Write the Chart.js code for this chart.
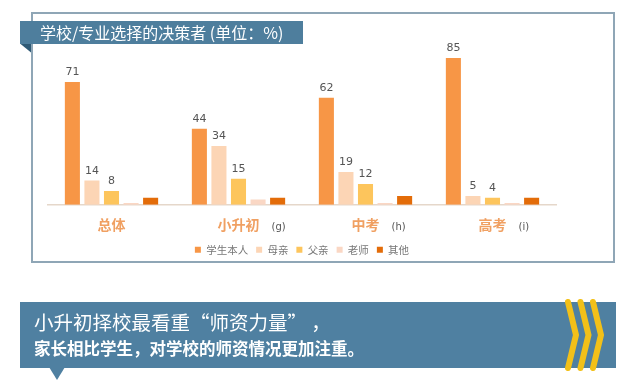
<!DOCTYPE html>
<html>
<head>
<meta charset="utf-8">
<script src="https://cdn.jsdelivr.net/npm/chart.js@4.4.1/dist/chart.umd.min.js"></script>
<style>
  html, body { margin: 0; padding: 0; background: #fff; }
  body { width: 644px; height: 387px; position: relative; overflow: hidden; font-family: "Noto Sans CJK SC", sans-serif; }
  .frame { position: absolute; left: 31px; top: 12px; width: 584px; height: 251px; box-sizing: border-box; border: 2px solid #8fa6b6; }
  #chart { position: absolute; left: 31px; top: 12px; }
  .title { position: absolute; left: 20px; top: 21px; width: 283px; height: 23px; background: #4e7e9d; color: #fff; font-size: 16px; line-height: 23px; padding-left: 20px; box-sizing: border-box; white-space: nowrap; }
  .banner { position: absolute; left: 20px; top: 302px; width: 596px; height: 66px; background: #4f80a1; color: #fff; }
  .banner .l1 { position: absolute; left: 14px; top: 7px; font-size: 19.5px; line-height: 26px; white-space: nowrap; }
  .banner .l2 { position: absolute; left: 14px; top: 33px; font-size: 16.5px; font-weight: bold; line-height: 26px; white-space: nowrap; }
  svg.deco { position: absolute; left: 0; top: 0; }
</style>
</head>
<body>
<div class="frame"></div>
<canvas id="chart" width="583" height="258"></canvas>
<svg class="deco" width="644" height="387">
  <polygon points="20,43.5 31,43.5 31,52.5" fill="#2f5a76"/>
  <polygon points="49,367 65,367 57,380" fill="#4f80a1"/>
</svg>
<div class="title">学校/专业选择的决策者 (单位：%)</div>
<div class="banner">
  <div class="l1">小升初择校最看重“师资力量” ，</div>
  <div class="l2">家长相比学生，对学校的师资情况更加注重。</div>
</div>
<svg class="deco" width="644" height="387">
  <g fill="none" stroke="#f2c019" stroke-width="6" stroke-linejoin="miter" stroke-linecap="round">
    <polyline points="568,302 576,335 568,368"/>
    <polyline points="580.5,302 588.5,335 580.5,368"/>
    <polyline points="593,302 601,335 593,368"/>
  </g>
</svg>
<script>
const categories = ['总体', '小升初', '中考', '高考'];
const categorySuffix = ['', '(g)', '(h)', '(i)'];
const seriesNames = ['学生本人', '母亲', '父亲', '老师', '其他'];
const student = [71, 44, 62, 85];
const mother = [14, 34, 19, 5];
const father = [8, 15, 12, 4];
const teacher = [1, 3, 1, 1];
const other = [4, 4, 5, 4];
const colors = ['#f79646', '#fcd5b5', '#fdc55c', '#fad7c4', '#e36c09'];
const labelledSeries = 3; // only the first three series carry value labels

const seriesValues = [student, mother, father, teacher, other];

// value labels above the bars
const valueLabels = {
    id: 'valueLabels',
    afterDatasetsDraw(chart) {
        const ctx = chart.ctx;
        ctx.save();
        ctx.font = '11px "DejaVu Sans"';
        ctx.fillStyle = '#555';
        ctx.textAlign = 'center';
        ctx.textBaseline = 'bottom';
        for (let d = 0; d < labelledSeries; d++) {
            chart.getDatasetMeta(d).data.forEach((bar, i) => {
                ctx.fillText(chart.data.datasets[d].data[i], bar.x, bar.y - 4);
            });
        }
        ctx.restore();
    }
};

// small "(g)" style notes next to the category labels
const labelSuffix = {
    id: 'labelSuffix',
    afterDraw(chart) {
        const ctx = chart.ctx;
        const scale = chart.scales.x;
        ctx.save();
        categories.forEach((c, i) => {
            if (!categorySuffix[i]) return;
            ctx.font = 'bold 14px "Noto Sans CJK SC"';
            const w = ctx.measureText(c).width;
            const x = scale.getPixelForTick(i) + w / 2 + 12;
            ctx.font = '10px "DejaVu Sans"';
            ctx.fillStyle = '#555';
            ctx.textAlign = 'left';
            ctx.textBaseline = 'middle';
            ctx.fillText(categorySuffix[i], x, scale.top + 23);
        });
        ctx.restore();
    }
};

new Chart(document.getElementById('chart'), {
    type: 'bar',
    data: {
        labels: categories,
        datasets: seriesNames.map((name, i) => ({
            label: name,
            data: seriesValues[i],
            backgroundColor: colors[i],
            borderWidth: 0,
            categoryPercentage: 0.77,
            barPercentage: 0.77
        }))
    },
    options: {
        responsive: false,
        devicePixelRatio: 1,
        animation: false,
        layout: { padding: { left: 17, right: 58, top: 20, bottom: 5 } },
        plugins: {
            tooltip: { enabled: false },
            legend: {
                position: 'bottom',
                labels: {
                    boxWidth: 6,
                    boxHeight: 6,
                    padding: 8,
                    color: '#777',
                    font: { family: '"Noto Sans CJK SC"', size: 10.5 }
                }
            }
        },
        scales: {
            x: {
                grid: { display: false, drawTicks: false },
                border: { display: true, color: '#e5d7ca', width: 1.5 },
                ticks: {
                    padding: 12,
                    color: '#f0a062',
                    font: { family: '"Noto Sans CJK SC"', size: 14, weight: 'bold' }
                },
                afterFit(scale) { scale.height -= 9; }
            },
            y: {
                display: false,
                min: 0,
                max: 100
            }
        }
    },
    plugins: [valueLabels, labelSuffix]
});
</script>
</body>
</html>
